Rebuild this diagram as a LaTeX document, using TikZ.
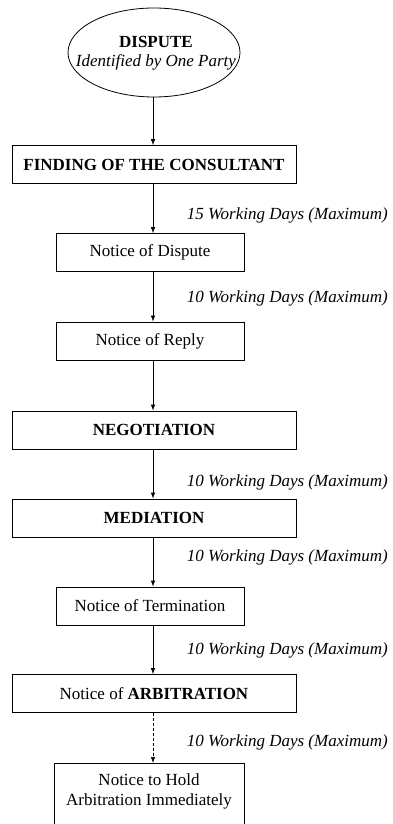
\documentclass[tikz,border=0pt]{standalone}
\usepackage{fontspec}
\setmainfont{Liberation Serif}
\usetikzlibrary{arrows.meta,shapes.geometric}
\begin{document}
\begin{tikzpicture}[x=1pt,y=1pt,
  every node/.style={font=\fontsize{17}{20}\selectfont},
  stepbox/.style={draw,line width=0.8pt,rectangle,inner sep=0pt,minimum height=38pt,align=center},
  wide/.style={stepbox,minimum width=284pt},
  narrow/.style={stepbox,minimum width=188pt},
  lbl/.style={anchor=east,inner sep=0pt,font=\fontsize{17}{20}\selectfont\itshape},
  arr/.style={line width=0.7pt,-{Latex[length=6pt,width=4.5pt]}},
  darr/.style={arr,dash pattern=on 3pt off 2pt}]
\useasboundingbox (0,0) rectangle (392,-824);
\clip (0,0) rectangle (392,-824);
\fill[white] (0,0) rectangle (392,-824);
\coordinate (ax) at (153,0);
\node[draw,ellipse,line width=0.8pt,minimum width=172pt,minimum height=89pt,inner sep=0pt] (disp) at (154,-52.5) {};
\node[inner sep=0pt,align=center] (disptxt) at (156,-53)
  {\textbf{DISPUTE}\\[-1pt]\textit{Identified by One Party}};
\node[wide] (find) at (154,-164.5) {\textbf{FINDING OF THE CONSULTANT}};
\node[narrow] (nod) at (150,-252.5) {Notice of Dispute};
\node[narrow] (nor) at (150,-341) {Notice of Reply};
\node[wide] (neg) at (154,-430) {\textbf{NEGOTIATION}};
\node[wide] (med) at (154,-518) {\textbf{MEDIATION}};
\node[narrow] (not) at (150,-606) {Notice of Termination};
\node[wide] (noa) at (154,-693.5) {Notice of \textbf{ARBITRATION}};
\node[stepbox,minimum width=190pt,minimum height=67pt,anchor=north] (hold) at (149,-763)
  {\\[-21pt]Notice to Hold\\Arbitration Immediately};
\node[lbl] (l1) at (388,-215) {15 Working Days (Maximum)};
\node[lbl] (l2) at (388,-298) {10 Working Days (Maximum)};
\node[lbl] (l3) at (388,-482) {10 Working Days (Maximum)};
\node[lbl] (l4) at (388,-557) {10 Working Days (Maximum)};
\node[lbl] (l5) at (388,-650) {10 Working Days (Maximum)};
\node[lbl] (l6) at (388,-742) {10 Working Days (Maximum)};
\draw[arr] (disp.south -| ax) -- (find.north -| ax);
\draw[arr] (find.south -| ax) -- (nod.north -| ax);
\draw[arr] (nod.south -| ax) -- (nor.north -| ax);
\draw[arr] (nor.south -| ax) -- (neg.north -| ax);
\draw[arr] (neg.south -| ax) -- (med.north -| ax);
\draw[arr] (med.south -| ax) -- (not.north -| ax);
\draw[arr] (not.south -| ax) -- (noa.north -| ax);
\draw[darr] (noa.south -| ax) -- (hold.north -| ax);
\end{tikzpicture}
\end{document}
